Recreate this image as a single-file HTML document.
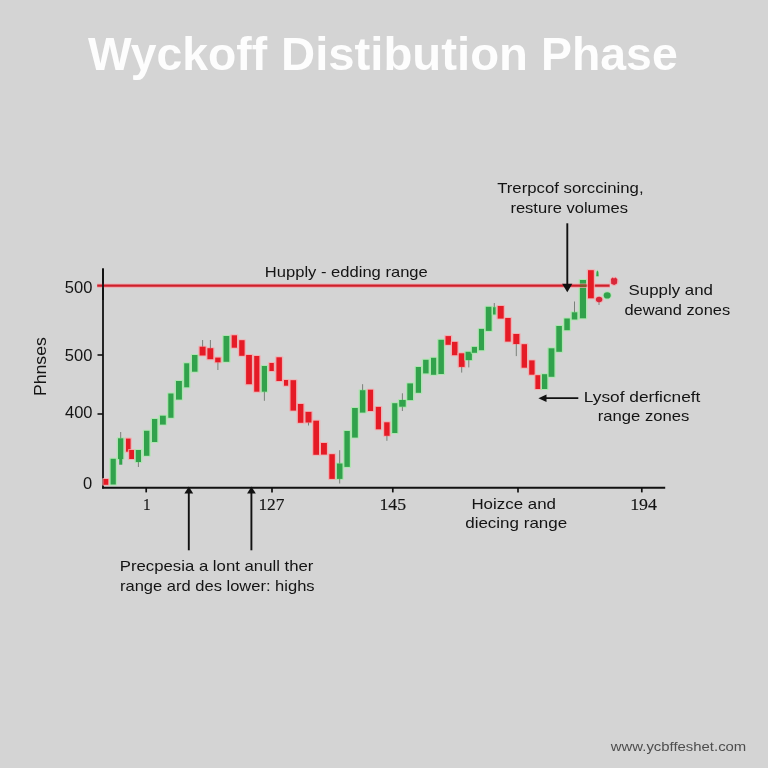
<!DOCTYPE html>
<html><head><meta charset="utf-8"><title>Wyckoff Distibution Phase</title>
<style>
html,body{margin:0;padding:0;background:#d4d4d4;}
body{width:768px;height:768px;overflow:hidden;}
svg{display:block;will-change:transform;}
</style></head>
<body>
<svg width="768" height="768" viewBox="0 0 768 768">
<rect width="768" height="768" fill="#d4d4d4"/>

<line x1="103" y1="268.5" x2="103" y2="488.6" stroke="#111" stroke-width="1.8"/>
<line x1="102.1" y1="487.7" x2="665.2" y2="487.7" stroke="#111" stroke-width="1.9"/>
<line x1="97.5" y1="355" x2="103" y2="355" stroke="#111" stroke-width="1.6"/>
<line x1="97.5" y1="414" x2="103" y2="414" stroke="#111" stroke-width="1.6"/>
<line x1="146.2" y1="488" x2="146.2" y2="492.4" stroke="#111" stroke-width="1.7"/>
<line x1="272" y1="488" x2="272" y2="492.4" stroke="#111" stroke-width="1.7"/>
<line x1="392.8" y1="488" x2="392.8" y2="492.4" stroke="#111" stroke-width="1.7"/>
<line x1="518" y1="488" x2="518" y2="492.4" stroke="#111" stroke-width="1.7"/>
<line x1="641.8" y1="488" x2="641.8" y2="492.4" stroke="#111" stroke-width="1.7"/>

<rect x="102.2" y="478.0" width="7.4" height="7.8" fill="#f6a6aa" opacity="0.8" rx="1"/><rect x="103.5" y="479.0" width="4.8" height="5.8" fill="#e51b26"/>
<rect x="109.3" y="457.8" width="7.8" height="27.7" fill="#a4e8a6" opacity="0.8" rx="1"/><rect x="110.6" y="458.8" width="5.2" height="25.7" fill="#31a24c"/>
<rect x="116.7" y="437.3" width="7.9" height="22.7" fill="#a4e8a6" opacity="0.8" rx="1"/><line x1="120.7" x2="120.7" y1="432" y2="438.3" stroke="#6f776f" stroke-width="0.9"/><rect x="118.0" y="438.3" width="5.3" height="20.7" fill="#31a24c"/>
<rect x="119.2" y="458.0" width="3.1" height="6.7" fill="#31a24c"/>
<rect x="124.7" y="437.6" width="7.2" height="15.1" fill="#f6a6aa" opacity="0.8" rx="1"/><rect x="126.0" y="438.6" width="4.6" height="13.1" fill="#e51b26"/>
<rect x="127.9" y="449.0" width="7.4" height="11.0" fill="#f6a6aa" opacity="0.8" rx="1"/><rect x="129.2" y="450.0" width="4.8" height="9.0" fill="#e51b26"/>
<rect x="134.5" y="449.0" width="7.8" height="14.0" fill="#a4e8a6" opacity="0.8" rx="1"/><line x1="138.4" x2="138.4" y1="462" y2="467" stroke="#6f776f" stroke-width="0.9"/><rect x="135.8" y="450.0" width="5.2" height="12.0" fill="#31a24c"/>
<rect x="142.7" y="429.8" width="8.0" height="27.0" fill="#a4e8a6" opacity="0.8" rx="1"/><rect x="144.0" y="430.8" width="5.4" height="25.0" fill="#31a24c"/>
<rect x="150.7" y="418.0" width="7.9" height="25.0" fill="#a4e8a6" opacity="0.8" rx="1"/><rect x="152.0" y="419.0" width="5.3" height="23.0" fill="#31a24c"/>
<rect x="158.7" y="414.7" width="8.4" height="10.9" fill="#a4e8a6" opacity="0.8" rx="1"/><rect x="160.0" y="415.7" width="5.8" height="8.9" fill="#31a24c"/>
<rect x="167.0" y="392.5" width="7.8" height="26.3" fill="#a4e8a6" opacity="0.8" rx="1"/><rect x="168.3" y="393.5" width="5.2" height="24.3" fill="#31a24c"/>
<rect x="174.7" y="380.0" width="8.5" height="20.6" fill="#a4e8a6" opacity="0.8" rx="1"/><rect x="176.0" y="381.0" width="5.9" height="18.6" fill="#31a24c"/>
<rect x="182.9" y="362.3" width="7.6" height="26.0" fill="#a4e8a6" opacity="0.8" rx="1"/><rect x="184.2" y="363.3" width="5.0" height="24.0" fill="#31a24c"/>
<rect x="190.7" y="354.0" width="8.1" height="18.7" fill="#a4e8a6" opacity="0.8" rx="1"/><rect x="192.0" y="355.0" width="5.5" height="16.7" fill="#31a24c"/>
<rect x="198.3" y="345.7" width="8.6" height="10.8" fill="#f6a6aa" opacity="0.8" rx="1"/><line x1="202.6" x2="202.6" y1="340" y2="346.7" stroke="#6f776f" stroke-width="0.9"/><rect x="199.6" y="346.7" width="6.0" height="8.8" fill="#e51b26"/>
<rect x="206.1" y="347.2" width="8.5" height="13.0" fill="#f6a6aa" opacity="0.8" rx="1"/><line x1="210.4" x2="210.4" y1="340" y2="348.2" stroke="#6f776f" stroke-width="0.9"/><rect x="207.4" y="348.2" width="5.9" height="11.0" fill="#e51b26"/>
<rect x="213.9" y="356.6" width="8.0" height="6.7" fill="#f6a6aa" opacity="0.8" rx="1"/><line x1="217.9" x2="217.9" y1="362.3" y2="370" stroke="#6f776f" stroke-width="0.9"/><rect x="215.2" y="357.6" width="5.4" height="4.7" fill="#e51b26"/>
<rect x="222.2" y="335.0" width="8.4" height="27.8" fill="#a4e8a6" opacity="0.8" rx="1"/><rect x="223.5" y="336.0" width="5.8" height="25.8" fill="#31a24c"/>
<rect x="230.4" y="334.3" width="7.9" height="14.4" fill="#f6a6aa" opacity="0.8" rx="1"/><rect x="231.7" y="335.3" width="5.3" height="12.4" fill="#e51b26"/>
<rect x="237.9" y="339.2" width="8.0" height="17.6" fill="#f6a6aa" opacity="0.8" rx="1"/><rect x="239.2" y="340.2" width="5.4" height="15.6" fill="#e51b26"/>
<rect x="244.8" y="354.0" width="8.4" height="31.2" fill="#f6a6aa" opacity="0.8" rx="1"/><rect x="246.1" y="355.0" width="5.8" height="29.2" fill="#e51b26"/>
<rect x="252.9" y="355.0" width="7.8" height="37.7" fill="#f6a6aa" opacity="0.8" rx="1"/><rect x="254.2" y="356.0" width="5.2" height="35.7" fill="#e51b26"/>
<rect x="260.5" y="365.0" width="7.8" height="27.7" fill="#a4e8a6" opacity="0.8" rx="1"/><line x1="264.4" x2="264.4" y1="391.7" y2="400.8" stroke="#6f776f" stroke-width="0.9"/><rect x="261.8" y="366.0" width="5.2" height="25.7" fill="#31a24c"/>
<rect x="268.1" y="362.0" width="7.0" height="10.0" fill="#f6a6aa" opacity="0.8" rx="1"/><rect x="269.4" y="363.0" width="4.4" height="8.0" fill="#e51b26"/>
<rect x="275.1" y="356.3" width="8.1" height="25.7" fill="#f6a6aa" opacity="0.8" rx="1"/><rect x="276.4" y="357.3" width="5.5" height="23.7" fill="#e51b26"/>
<rect x="282.7" y="379.0" width="6.7" height="7.7" fill="#f6a6aa" opacity="0.8" rx="1"/><rect x="284.0" y="380.0" width="4.1" height="5.7" fill="#e51b26"/>
<rect x="289.2" y="379.2" width="8.2" height="32.4" fill="#f6a6aa" opacity="0.8" rx="1"/><rect x="290.5" y="380.2" width="5.6" height="30.4" fill="#e51b26"/>
<rect x="296.6" y="403.0" width="8.1" height="20.8" fill="#f6a6aa" opacity="0.8" rx="1"/><rect x="297.9" y="404.0" width="5.5" height="18.8" fill="#e51b26"/>
<rect x="304.2" y="410.9" width="8.6" height="12.6" fill="#f6a6aa" opacity="0.8" rx="1"/><line x1="308.5" x2="308.5" y1="422.5" y2="425.5" stroke="#6f776f" stroke-width="0.9"/><rect x="305.5" y="411.9" width="6.0" height="10.6" fill="#e51b26"/>
<rect x="312.0" y="419.7" width="8.3" height="36.1" fill="#f6a6aa" opacity="0.8" rx="1"/><rect x="313.3" y="420.7" width="5.7" height="34.1" fill="#e51b26"/>
<rect x="319.7" y="442.0" width="8.5" height="13.6" fill="#f6a6aa" opacity="0.8" rx="1"/><rect x="321.0" y="443.0" width="5.9" height="11.6" fill="#e51b26"/>
<rect x="328.0" y="453.2" width="8.1" height="26.7" fill="#f6a6aa" opacity="0.8" rx="1"/><rect x="329.3" y="454.2" width="5.5" height="24.7" fill="#e51b26"/>
<rect x="335.6" y="462.5" width="8.2" height="17.4" fill="#a4e8a6" opacity="0.8" rx="1"/><line x1="339.7" x2="339.7" y1="450.2" y2="463.5" stroke="#6f776f" stroke-width="0.9"/><line x1="339.7" x2="339.7" y1="478.9" y2="483.5" stroke="#6f776f" stroke-width="0.9"/><rect x="336.9" y="463.5" width="5.6" height="15.4" fill="#31a24c"/>
<rect x="343.1" y="430.0" width="8.0" height="37.9" fill="#a4e8a6" opacity="0.8" rx="1"/><rect x="344.4" y="431.0" width="5.4" height="35.9" fill="#31a24c"/>
<rect x="350.8" y="407.0" width="8.3" height="31.6" fill="#a4e8a6" opacity="0.8" rx="1"/><rect x="352.1" y="408.0" width="5.7" height="29.6" fill="#31a24c"/>
<rect x="358.6" y="389.2" width="8.1" height="24.4" fill="#a4e8a6" opacity="0.8" rx="1"/><line x1="362.6" x2="362.6" y1="384.2" y2="390.2" stroke="#6f776f" stroke-width="0.9"/><rect x="359.9" y="390.2" width="5.5" height="22.4" fill="#31a24c"/>
<rect x="366.6" y="388.7" width="7.8" height="23.3" fill="#f6a6aa" opacity="0.8" rx="1"/><rect x="367.9" y="389.7" width="5.2" height="21.3" fill="#e51b26"/>
<rect x="374.5" y="405.9" width="7.8" height="24.4" fill="#f6a6aa" opacity="0.8" rx="1"/><rect x="375.8" y="406.9" width="5.2" height="22.4" fill="#e51b26"/>
<rect x="382.9" y="421.3" width="8.0" height="15.5" fill="#f6a6aa" opacity="0.8" rx="1"/><line x1="386.9" x2="386.9" y1="435.8" y2="440.8" stroke="#6f776f" stroke-width="0.9"/><rect x="384.2" y="422.3" width="5.4" height="13.5" fill="#e51b26"/>
<rect x="390.9" y="402.2" width="7.8" height="31.8" fill="#a4e8a6" opacity="0.8" rx="1"/><rect x="392.2" y="403.2" width="5.2" height="29.8" fill="#31a24c"/>
<rect x="397.9" y="399.0" width="9.1" height="8.7" fill="#a4e8a6" opacity="0.8" rx="1"/><line x1="402.4" x2="402.4" y1="393.3" y2="400" stroke="#6f776f" stroke-width="0.9"/><line x1="402.4" x2="402.4" y1="406.7" y2="411" stroke="#6f776f" stroke-width="0.9"/><rect x="399.2" y="400.0" width="6.5" height="6.7" fill="#31a24c"/>
<rect x="406.0" y="382.4" width="8.3" height="18.7" fill="#a4e8a6" opacity="0.8" rx="1"/><rect x="407.3" y="383.4" width="5.7" height="16.7" fill="#31a24c"/>
<rect x="414.5" y="366.0" width="7.8" height="27.8" fill="#a4e8a6" opacity="0.8" rx="1"/><rect x="415.8" y="367.0" width="5.2" height="25.8" fill="#31a24c"/>
<rect x="421.8" y="358.8" width="8.1" height="15.6" fill="#a4e8a6" opacity="0.8" rx="1"/><rect x="423.1" y="359.8" width="5.5" height="13.6" fill="#31a24c"/>
<rect x="429.7" y="356.8" width="7.8" height="19.0" fill="#a4e8a6" opacity="0.8" rx="1"/><rect x="431.0" y="357.8" width="5.2" height="17.0" fill="#31a24c"/>
<rect x="437.1" y="338.8" width="8.1" height="36.2" fill="#a4e8a6" opacity="0.8" rx="1"/><rect x="438.4" y="339.8" width="5.5" height="34.2" fill="#31a24c"/>
<rect x="444.2" y="335.1" width="8.1" height="10.7" fill="#f6a6aa" opacity="0.8" rx="1"/><rect x="445.5" y="336.1" width="5.5" height="8.7" fill="#e51b26"/>
<rect x="450.7" y="340.9" width="8.1" height="15.3" fill="#f6a6aa" opacity="0.8" rx="1"/><rect x="452.0" y="341.9" width="5.5" height="13.3" fill="#e51b26"/>
<rect x="457.5" y="352.3" width="8.4" height="15.6" fill="#f6a6aa" opacity="0.8" rx="1"/><line x1="461.7" x2="461.7" y1="366.9" y2="372.6" stroke="#6f776f" stroke-width="0.9"/><rect x="458.8" y="353.3" width="5.8" height="13.6" fill="#e51b26"/>
<rect x="464.3" y="350.8" width="8.9" height="10.3" fill="#a4e8a6" opacity="0.8" rx="1"/><line x1="468.8" x2="468.8" y1="360.1" y2="367.4" stroke="#6f776f" stroke-width="0.9"/><rect x="465.6" y="351.8" width="6.3" height="8.3" fill="#31a24c"/>
<rect x="470.6" y="345.9" width="7.7" height="7.9" fill="#a4e8a6" opacity="0.8" rx="1"/><rect x="471.9" y="346.9" width="5.1" height="5.9" fill="#31a24c"/>
<rect x="477.6" y="327.9" width="7.7" height="23.3" fill="#a4e8a6" opacity="0.8" rx="1"/><rect x="478.9" y="328.9" width="5.1" height="21.3" fill="#31a24c"/>
<rect x="484.5" y="305.8" width="8.4" height="26.1" fill="#a4e8a6" opacity="0.8" rx="1"/><rect x="485.8" y="306.8" width="5.8" height="24.1" fill="#31a24c"/>
<rect x="491.7" y="306.2" width="5.2" height="9.3" fill="#a4e8a6" opacity="0.8" rx="1"/><line x1="494.3" x2="494.3" y1="303" y2="307.2" stroke="#6f776f" stroke-width="0.9"/><rect x="493.0" y="307.2" width="2.6" height="7.3" fill="#31a24c"/>
<rect x="496.4" y="305.0" width="8.6" height="14.6" fill="#f6a6aa" opacity="0.8" rx="1"/><rect x="497.7" y="306.0" width="6.0" height="12.6" fill="#e51b26"/>
<rect x="503.9" y="317.0" width="8.1" height="25.6" fill="#f6a6aa" opacity="0.8" rx="1"/><rect x="505.2" y="318.0" width="5.5" height="23.6" fill="#e51b26"/>
<rect x="512.0" y="333.0" width="8.7" height="12.0" fill="#f6a6aa" opacity="0.8" rx="1"/><line x1="516.3" x2="516.3" y1="344" y2="356.1" stroke="#6f776f" stroke-width="0.9"/><rect x="513.3" y="334.0" width="6.1" height="10.0" fill="#e51b26"/>
<rect x="520.3" y="343.2" width="8.0" height="25.5" fill="#f6a6aa" opacity="0.8" rx="1"/><rect x="521.6" y="344.2" width="5.4" height="23.5" fill="#e51b26"/>
<rect x="527.9" y="359.4" width="8.0" height="16.3" fill="#f6a6aa" opacity="0.8" rx="1"/><rect x="529.2" y="360.4" width="5.4" height="14.3" fill="#e51b26"/>
<rect x="534.1" y="374.2" width="7.5" height="15.8" fill="#f6a6aa" opacity="0.8" rx="1"/><rect x="535.4" y="375.2" width="4.9" height="13.8" fill="#e51b26"/>
<rect x="540.7" y="373.2" width="7.9" height="16.8" fill="#a4e8a6" opacity="0.8" rx="1"/><rect x="542.0" y="374.2" width="5.3" height="14.8" fill="#31a24c"/>
<rect x="547.3" y="347.3" width="8.4" height="30.5" fill="#a4e8a6" opacity="0.8" rx="1"/><rect x="548.6" y="348.3" width="5.8" height="28.5" fill="#31a24c"/>
<rect x="555.0" y="325.0" width="8.2" height="27.8" fill="#a4e8a6" opacity="0.8" rx="1"/><rect x="556.3" y="326.0" width="5.6" height="25.8" fill="#31a24c"/>
<rect x="563.0" y="317.5" width="8.1" height="13.7" fill="#a4e8a6" opacity="0.8" rx="1"/><rect x="564.3" y="318.5" width="5.5" height="11.7" fill="#31a24c"/>
<rect x="570.5" y="311.3" width="8.1" height="9.2" fill="#a4e8a6" opacity="0.8" rx="1"/><line x1="574.5" x2="574.5" y1="301.5" y2="312.3" stroke="#6f776f" stroke-width="0.9"/><rect x="571.8" y="312.3" width="5.5" height="7.2" fill="#31a24c"/>
<rect x="578.6" y="279.0" width="8.7" height="40.3" fill="#a4e8a6" opacity="0.8" rx="1"/><rect x="579.9" y="280.0" width="6.1" height="38.3" fill="#31a24c"/>

<line x1="97.2" y1="285.7" x2="610" y2="285.7" stroke="#f3a3ab" stroke-width="4.6" opacity="0.75"/>
<line x1="97.2" y1="285.7" x2="609.6" y2="285.7" stroke="#cf1f2a" stroke-width="2.2"/>
<line x1="103" y1="268.5" x2="103" y2="300" stroke="#111" stroke-width="1.8"/>

<line x1="579.9" y1="285.7" x2="586" y2="285.7" stroke="#7d5a2a" stroke-width="2.3"/><rect x="586.7" y="269.2" width="8.4" height="30.1" fill="#f6a6aa" opacity="0.8" rx="1"/><rect x="588.0" y="270.2" width="5.8" height="28.1" fill="#e51b26"/>
<path d="M595.8 276.6 L596.2 271.5 L597.4 269.6 L598.8 271.5 L599 276.6 Z" fill="#a4e8a6" opacity="0.8"/>
<path d="M596.3 276.3 L596.6 272 L597.4 270.4 L598.3 272 L598.6 276.3 Z" fill="#31a24c"/>
<ellipse cx="599.1" cy="299.5" rx="4.3" ry="3.6" fill="#f6a6aa" opacity="0.8"/>
<ellipse cx="599.1" cy="299.5" rx="3.2" ry="2.7" fill="#d8283a"/>
<line x1="599" y1="302" x2="599" y2="305" stroke="#7a6a6a" stroke-width="0.8"/>
<ellipse cx="607.2" cy="295.4" rx="4.6" ry="4.1" fill="#a4e8a6" opacity="0.8"/>
<ellipse cx="607.2" cy="295.4" rx="3.5" ry="3.1" fill="#31a24c"/>
<ellipse cx="614.1" cy="281.3" rx="4.5" ry="4.6" fill="#f6a6aa" opacity="0.85"/>
<path d="M611 279 L612.5 277.6 L614 278.6 L615.6 277.6 L617.3 279.2 L617 283.6 L614.2 285 L611.2 283.8 Z" fill="#d8283a"/>


<line x1="567.3" y1="223.3" x2="567.3" y2="286" stroke="#111" stroke-width="1.9"/>
<path d="M562.1 283.7 L572.3 283.7 L567.3 292.2 Z" fill="#111"/>
<line x1="188.8" y1="492" x2="188.8" y2="550.3" stroke="#111" stroke-width="1.9"/>
<path d="M184.4 493.6 L193.2 493.6 L188.8 486.4 Z" fill="#111"/>
<line x1="251.4" y1="492" x2="251.4" y2="550.3" stroke="#111" stroke-width="1.9"/>
<path d="M247.1 493.6 L255.8 493.6 L251.4 486.4 Z" fill="#111"/>
<line x1="544" y1="398.2" x2="578.3" y2="398.2" stroke="#111" stroke-width="1.8"/>
<path d="M546.5 394.4 L546.5 402.1 L538.4 398.2 Z" fill="#111"/>

<text x="88.0" y="69.5" font-family="'Liberation Sans', Arial, sans-serif" font-size="46.7" fill="#fdfdfd" font-weight="bold" text-anchor="start" textLength="179.1" lengthAdjust="spacingAndGlyphs">Wyckoff</text><text x="281.0" y="69.5" font-family="'Liberation Sans', Arial, sans-serif" font-size="46.7" fill="#fdfdfd" font-weight="bold" text-anchor="start" textLength="246.9" lengthAdjust="spacingAndGlyphs">Distibution</text><text x="541.1" y="69.5" font-family="'Liberation Sans', Arial, sans-serif" font-size="46.7" fill="#fdfdfd" font-weight="bold" text-anchor="start" textLength="136.6" lengthAdjust="spacingAndGlyphs">Phase</text><text x="497.2" y="193.4" font-family="'Liberation Sans', Arial, sans-serif" font-size="14.6" fill="#141414" font-weight="normal" text-anchor="start" textLength="146.4" lengthAdjust="spacingAndGlyphs">Trerpcof sorccining,</text><text x="510.4" y="212.9" font-family="'Liberation Sans', Arial, sans-serif" font-size="14.6" fill="#141414" font-weight="normal" text-anchor="start" textLength="117.6" lengthAdjust="spacingAndGlyphs">resture volumes</text><text x="264.8" y="277.1" font-family="'Liberation Sans', Arial, sans-serif" font-size="14.6" fill="#141414" font-weight="normal" text-anchor="start" textLength="163" lengthAdjust="spacingAndGlyphs">Hupply - edding range</text><text x="628.6" y="294.5" font-family="'Liberation Sans', Arial, sans-serif" font-size="14.6" fill="#141414" font-weight="normal" text-anchor="start" textLength="84.4" lengthAdjust="spacingAndGlyphs">Supply and</text><text x="624.4" y="314.9" font-family="'Liberation Sans', Arial, sans-serif" font-size="14.6" fill="#141414" font-weight="normal" text-anchor="start" textLength="105.8" lengthAdjust="spacingAndGlyphs">dewand zones</text><text x="583.8" y="402.1" font-family="'Liberation Sans', Arial, sans-serif" font-size="14.6" fill="#141414" font-weight="normal" text-anchor="start" textLength="116.6" lengthAdjust="spacingAndGlyphs">Lysof derficneft</text><text x="597.8" y="421" font-family="'Liberation Sans', Arial, sans-serif" font-size="14.6" fill="#141414" font-weight="normal" text-anchor="start" textLength="91.6" lengthAdjust="spacingAndGlyphs">range zones</text><text x="471.4" y="508.75" font-family="'Liberation Sans', Arial, sans-serif" font-size="14.6" fill="#141414" font-weight="normal" text-anchor="start" textLength="84.6" lengthAdjust="spacingAndGlyphs">Hoizce and</text><text x="465.2" y="528.0" font-family="'Liberation Sans', Arial, sans-serif" font-size="14.6" fill="#141414" font-weight="normal" text-anchor="start" textLength="102" lengthAdjust="spacingAndGlyphs">diecing range</text><text x="119.8" y="570.6" font-family="'Liberation Sans', Arial, sans-serif" font-size="14.6" fill="#141414" font-weight="normal" text-anchor="start" textLength="193.6" lengthAdjust="spacingAndGlyphs">Precpesia a lont anull ther</text><text x="120.0" y="590.6" font-family="'Liberation Sans', Arial, sans-serif" font-size="14.6" fill="#141414" font-weight="normal" text-anchor="start" textLength="194.6" lengthAdjust="spacingAndGlyphs">range ard des lower: highs</text><text x="92.4" y="293" font-family="'Liberation Sans', Arial, sans-serif" font-size="16.5" fill="#141414" font-weight="normal" text-anchor="end">500</text><text x="92.4" y="361.3" font-family="'Liberation Sans', Arial, sans-serif" font-size="16.5" fill="#141414" font-weight="normal" text-anchor="end">500</text><text x="92.5" y="418" font-family="'Liberation Sans', Arial, sans-serif" font-size="16.5" fill="#141414" font-weight="normal" text-anchor="end">400</text><text x="92.2" y="488.6" font-family="'Liberation Sans', Arial, sans-serif" font-size="16.5" fill="#141414" font-weight="normal" text-anchor="end">0</text><text x="146.7" y="510.4" font-family="'Liberation Serif', 'Times New Roman', serif" font-size="17" fill="#141414" font-weight="normal" text-anchor="middle" textLength="7.6" lengthAdjust="spacingAndGlyphs" stroke="#141414" stroke-width="0.15">1</text><text x="271.4" y="510.2" font-family="'Liberation Serif', 'Times New Roman', serif" font-size="17" fill="#141414" font-weight="normal" text-anchor="middle" textLength="26.0" lengthAdjust="spacingAndGlyphs" stroke="#141414" stroke-width="0.15">127</text><text x="392.8" y="510.3" font-family="'Liberation Serif', 'Times New Roman', serif" font-size="17" fill="#141414" font-weight="normal" text-anchor="middle" textLength="26.6" lengthAdjust="spacingAndGlyphs" stroke="#141414" stroke-width="0.15">145</text><text x="643.6" y="510.1" font-family="'Liberation Serif', 'Times New Roman', serif" font-size="17" fill="#141414" font-weight="normal" text-anchor="middle" textLength="26.8" lengthAdjust="spacingAndGlyphs" stroke="#141414" stroke-width="0.15">194</text><text x="610.8" y="751.2" font-family="'Liberation Sans', Arial, sans-serif" font-size="13" fill="#4e4e4e" font-weight="normal" text-anchor="start" textLength="135.5" lengthAdjust="spacingAndGlyphs">www.ycbffeshet.com</text><text x="0" y="0" font-family="'Liberation Sans', Arial, sans-serif" font-size="17.3" fill="#141414" text-anchor="middle" textLength="59" lengthAdjust="spacingAndGlyphs" transform="translate(45.6 366.6) rotate(-90)">Phnses</text>
</svg>
</body></html>
